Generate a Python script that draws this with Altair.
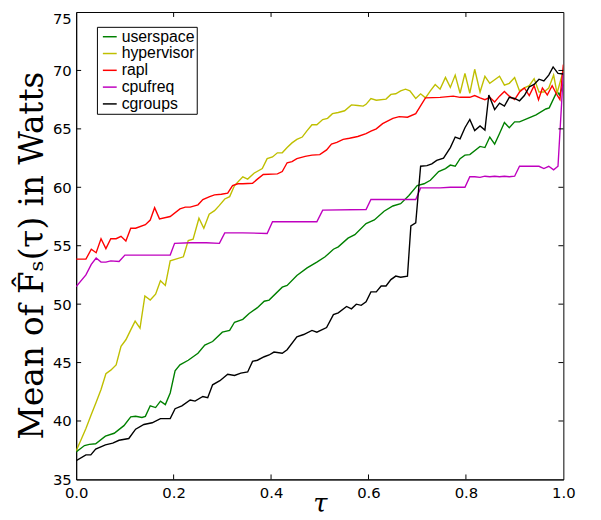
import altair as alt
import pandas as pd

# ---------------- data ----------------
series_names = ["userspace", "hypervisor", "rapl", "cpufreq", "cgroups"]
series_colors = ["#008000", "#bfbf00", "#ff0000", "#bf00bf", "#000000"]

userspace_tau = [0, 0.017, 0.027, 0.04, 0.06, 0.078, 0.098, 0.112, 0.122, 0.135,
                 0.142, 0.152, 0.163, 0.173, 0.183, 0.193, 0.203, 0.213, 0.23, 0.25,
                 0.264, 0.28, 0.30, 0.315, 0.325, 0.342, 0.355, 0.372, 0.386, 0.396,
                 0.423, 0.433, 0.453, 0.474, 0.494, 0.511, 0.528, 0.538, 0.558, 0.572,
                 0.595, 0.612, 0.632, 0.65, 0.666, 0.683, 0.70, 0.714, 0.727, 0.744,
                 0.758, 0.768, 0.778, 0.788, 0.798, 0.808, 0.829, 0.839, 0.849, 0.859,
                 0.869, 0.879, 0.889, 0.90, 0.91, 0.927, 0.944, 0.964, 0.971, 0.987,
                 0.992, 1.0]
userspace_val = [37.35, 37.9, 38.0, 38.05, 38.7, 38.95, 39.6, 40.35, 40.4, 40.3,
                 40.4, 41.3, 41.15, 41.7, 41.4, 42.4, 44.3, 44.8, 45.2, 45.8,
                 46.5, 46.8, 47.6, 47.75, 48.45, 48.7, 49.2, 49.7, 50.25, 50.35,
                 51.45, 51.6, 52.45, 53.1, 53.6, 54.05, 54.7, 54.9, 55.65, 55.95,
                 56.9, 57.2, 57.95, 58.4, 58.6, 59.3, 60.15, 60.3, 60.6, 61.35,
                 61.6, 61.9, 61.8, 62.45, 62.75, 62.8, 63.5, 63.4, 64.3, 63.7,
                 64.6, 65.55, 65.1, 65.6, 65.6, 65.9, 66.2, 66.7, 66.8, 68.2,
                 67.9, 68.8]

hypervisor_tau = [0, 0.01, 0.02, 0.031, 0.041, 0.051, 0.061, 0.071, 0.082, 0.092,
                  0.102, 0.112, 0.121, 0.131, 0.141, 0.152, 0.163, 0.173, 0.183, 0.193,
                  0.22, 0.23, 0.24, 0.252, 0.262, 0.273, 0.284, 0.294, 0.305, 0.315,
                  0.325, 0.342, 0.352, 0.365, 0.382, 0.392, 0.403, 0.413, 0.423, 0.433,
                  0.443, 0.453, 0.464, 0.474, 0.484, 0.494, 0.506, 0.516, 0.526, 0.538,
                  0.551, 0.565, 0.578, 0.589, 0.595, 0.605, 0.616, 0.636, 0.646, 0.656,
                  0.666, 0.676, 0.685, 0.697, 0.707, 0.717, 0.727, 0.737, 0.747, 0.758,
                  0.768, 0.778, 0.788, 0.798, 0.808, 0.818, 0.829, 0.839, 0.849, 0.859,
                  0.869, 0.879, 0.889, 0.90, 0.91, 0.92, 0.93, 0.94, 0.95, 0.96,
                  0.97, 0.98, 0.987, 1.0]
hypervisor_val = [37.45, 38.4, 39.35, 40.55, 41.6, 42.7, 44.05, 44.35, 44.8, 46.4,
                  46.95, 47.8, 48.55, 47.95, 50.7, 50.35, 50.85, 52.0, 51.6, 53.7,
                  54.05, 55.45, 55.55, 57.35, 56.5, 57.7, 58.0, 58.45, 59.0, 59.2,
                  60.15, 60.9, 60.7, 61.2, 61.6, 62.45, 62.6, 62.95, 62.95, 63.4,
                  63.8, 64.1, 64.3, 64.85, 65.35, 65.35, 65.8, 65.9, 66.3, 66.4,
                  66.55, 67.05, 67.0, 66.95, 67.1, 67.6, 67.45, 67.55, 67.95, 68.0,
                  68.25, 68.4, 68.25, 67.6, 68.0, 67.65, 68.25, 68.8, 68.4, 69.4,
                  68.55, 69.6, 68.05, 69.75, 68.05, 70.1, 68.15, 69.5, 68.9, 69.2,
                  69.5, 68.75, 68.9, 69.4, 68.25, 68.5, 68.7, 69.3, 68.15, 68.15,
                  68.5, 69.6, 68.05, 70.0]

rapl_tau = [0, 0.02, 0.031, 0.041, 0.051, 0.061, 0.071, 0.082, 0.092, 0.102,
            0.112, 0.122, 0.142, 0.152, 0.161, 0.171, 0.193, 0.213, 0.224, 0.234,
            0.25, 0.26, 0.274, 0.284, 0.298, 0.311, 0.321, 0.332, 0.342, 0.362,
            0.372, 0.384, 0.413, 0.423, 0.433, 0.443, 0.453, 0.47, 0.484, 0.50,
            0.514, 0.524, 0.535, 0.548, 0.561, 0.578, 0.595, 0.605, 0.616, 0.629,
            0.643, 0.65, 0.663, 0.68, 0.697, 0.717, 0.747, 0.774, 0.788, 0.808,
            0.818, 0.829, 0.839, 0.849, 0.859, 0.869, 0.879, 0.889, 0.90, 0.91,
            0.92, 0.93, 0.94, 0.949, 0.957, 0.967, 0.977, 0.987, 0.993, 1.0]
rapl_val = [53.85, 53.85, 54.7, 54.4, 55.6, 54.75, 55.6, 55.6, 55.8, 55.4,
            56.5, 56.5, 56.8, 57.2, 58.25, 57.3, 57.5, 58.15, 58.3, 58.3,
            58.5, 58.95, 59.2, 59.35, 59.4, 59.5, 60.15, 60.3, 60.3, 60.35,
            60.7, 61.1, 61.15, 61.35, 62.1, 62.2, 62.45, 62.65, 62.75, 62.8,
            63.2, 63.7, 63.85, 64.1, 64.2, 64.35, 64.6, 64.8, 65.0, 65.45,
            65.75, 65.9, 66.05, 66.0, 66.3, 67.65, 67.7, 67.8, 67.7, 67.7,
            67.85, 67.65, 67.5, 67.7, 67.3, 67.8, 68.2, 67.8, 67.5, 68.15,
            68.5, 67.85, 68.7, 67.5, 68.5, 67.9, 68.7, 67.9, 67.5, 70.5]

cpufreq_tau = [0, 0.02, 0.031, 0.041, 0.051, 0.061, 0.071, 0.088, 0.10, 0.132,
               0.166, 0.193, 0.202, 0.234, 0.267, 0.294, 0.305, 0.342, 0.392, 0.403,
               0.494, 0.506, 0.595, 0.605, 0.663, 0.697, 0.707, 0.747, 0.768, 0.798,
               0.808, 0.818, 0.829, 0.839, 0.849, 0.859, 0.869, 0.879, 0.889, 0.90,
               0.91, 0.93, 0.95, 0.96, 0.97, 0.98, 0.989, 1.0]
cpufreq_val = [51.5, 52.5, 53.4, 53.95, 53.6, 53.6, 53.7, 53.65, 54.2, 54.2,
               54.2, 54.2, 55.2, 55.25, 55.25, 55.2, 56.1, 56.1, 56.05, 57.05,
               57.05, 58.05, 58.1, 58.95, 58.95, 58.95, 59.95, 59.95, 60.0, 60.0,
               60.9, 60.9, 60.85, 60.95, 60.9, 60.95, 60.9, 60.95, 60.9, 60.95,
               61.8, 61.8, 61.8, 61.6, 61.8, 61.5, 61.8, 69.8]

cgroups_tau = [0, 0.02, 0.03, 0.04, 0.06, 0.075, 0.088, 0.108, 0.122, 0.139,
               0.156, 0.173, 0.193, 0.203, 0.217, 0.234, 0.244, 0.26, 0.27, 0.28,
               0.295, 0.311, 0.325, 0.338, 0.352, 0.362, 0.372, 0.386, 0.396, 0.406,
               0.423, 0.433, 0.453, 0.467, 0.484, 0.494, 0.514, 0.528, 0.538, 0.555,
               0.565, 0.575, 0.585, 0.595, 0.605, 0.616, 0.626, 0.636, 0.646, 0.656,
               0.666, 0.68, 0.687, 0.697, 0.707, 0.72, 0.73, 0.74, 0.754, 0.768,
               0.778, 0.788, 0.798, 0.808, 0.818, 0.829, 0.839, 0.847, 0.859, 0.869,
               0.879, 0.889, 0.90, 0.91, 0.92, 0.93, 0.94, 0.95, 0.96, 0.97,
               0.979, 0.989, 1.0]
cgroups_val = [36.6, 37.1, 37.1, 37.6, 37.95, 38.1, 38.35, 38.5, 39.3, 39.7,
               39.85, 40.2, 40.2, 41.05, 41.3, 41.8, 41.7, 42.1, 42.0, 43.1,
               43.45, 44.0, 43.9, 44.1, 44.2, 45.1, 45.2, 45.5, 45.65, 45.9,
               45.8, 46.1, 47.2, 47.4, 47.75, 47.6, 48.0, 49.1, 49.25, 49.8,
               49.6, 50.0, 49.9, 50.2, 51.05, 51.05, 51.55, 51.55, 52.1, 52.4,
               52.3, 52.4, 56.7, 56.95, 61.8, 61.85, 62.0, 62.3, 62.5, 63.4,
               64.3, 64.15, 65.1, 65.8, 64.85, 65.25, 64.9, 67.9, 66.65, 67.2,
               66.95, 67.7, 67.6, 67.4, 67.85, 68.6, 68.8, 69.25, 69.1, 69.6,
               70.3, 69.75, 69.7]

x_tick_values = [0.0, 0.2, 0.4, 0.6, 0.8, 1.0]
y_tick_values = [35, 40, 45, 50, 55, 60, 65, 70, 75]

x_title = "τ"
y_title = "Mean of F̂ₛ(τ) in Watts"

# ---------------- build table ----------------
rows = []
for name, taus, vals in [
    ("userspace", userspace_tau, userspace_val),
    ("hypervisor", hypervisor_tau, hypervisor_val),
    ("rapl", rapl_tau, rapl_val),
    ("cpufreq", cpufreq_tau, cpufreq_val),
    ("cgroups", cgroups_tau, cgroups_val),
]:
    for i, (t, v) in enumerate(zip(taus, vals)):
        rows.append({"series": name, "tau": t, "value": v, "idx": i})
df = pd.DataFrame(rows)

W, H = 493, 473
x_scale = alt.Scale(domain=[0, 1], nice=False, zero=False)
y_scale = alt.Scale(domain=[35, 75], nice=False, zero=False)

x_axis = alt.Axis(values=x_tick_values, format=".1f", title=x_title,
                  ticks=False, grid=False, labelPadding=6, labelFlush=False,
                  titleFont="DejaVu Serif", titleFontStyle="italic",
                  titleFontSize=26, titleFontWeight="normal",
                  titleBaseline="alphabetic", titlePadding=11)
y_axis = alt.Axis(values=y_tick_values, format="d", title=y_title,
                  ticks=False, grid=False, labelPadding=5, labelFlush=False,
                  labelBaseline={"condition": {"test": "datum.value >= 75", "value": "top"},
                                 "value": "middle"},
                  titleFont="DejaVu Serif", titleFontSize=33,
                  titleFontWeight="normal", titlePadding=3, titleY=246)

lines = alt.Chart(df).mark_line(strokeWidth=1.4, clip=True).encode(
    x=alt.X("tau:Q", scale=x_scale, axis=x_axis, title=x_title),
    y=alt.Y("value:Q", scale=y_scale, axis=y_axis, title=y_title),
    color=alt.Color("series:N",
                    scale=alt.Scale(domain=series_names, range=series_colors),
                    legend=alt.Legend(title=None, orient="none", legendX=21, legendY=15,
                                      symbolType="stroke", symbolSize=196,
                                      symbolStrokeWidth=1.5, symbolOffset=3,
                                      labelFont="Liberation Sans", labelFontSize=16,
                                      labelColor="black", labelOffset=4,
                                      rowPadding=1, padding=2,
                                      strokeColor="black", fillColor="white")),
    order="idx:Q",
)

xt = pd.DataFrame({"t": x_tick_values[1:-1]})
yt = pd.DataFrame({"t": y_tick_values[1:-1]})

tick_bottom = alt.Chart(xt).mark_rule(color="black", strokeWidth=1).encode(
    x=alt.X("t:Q", scale=x_scale, axis=x_axis, title=x_title), y=alt.value(H), y2=alt.value(H - 5))
tick_top = alt.Chart(xt).mark_rule(color="black", strokeWidth=1).encode(
    x=alt.X("t:Q", scale=x_scale, axis=x_axis, title=x_title), y=alt.value(0), y2=alt.value(5))
tick_left = alt.Chart(yt).mark_rule(color="black", strokeWidth=1).encode(
    y=alt.Y("t:Q", scale=y_scale, axis=y_axis, title=y_title),
    x=alt.value(0), x2=alt.value(5))
tick_right = alt.Chart(yt).mark_rule(color="black", strokeWidth=1).encode(
    y=alt.Y("t:Q", scale=y_scale, axis=y_axis, title=y_title),
    x=alt.value(W), x2=alt.value(W - 5))

chart = alt.layer(lines, tick_bottom, tick_top, tick_left, tick_right).properties(
    width=W, height=H,
    autosize=alt.AutoSizeParams(type="none"),
    padding={"left": 69, "top": 1, "right": 30, "bottom": 38},
).configure_view(
    stroke="black", strokeWidth=1
).configure_axis(
    domainColor="black", labelColor="black", titleColor="black",
    labelFont="DejaVu Sans", labelFontSize=15
)

chart.save("out.html", embed_options={"renderer": "svg", "actions": False})
